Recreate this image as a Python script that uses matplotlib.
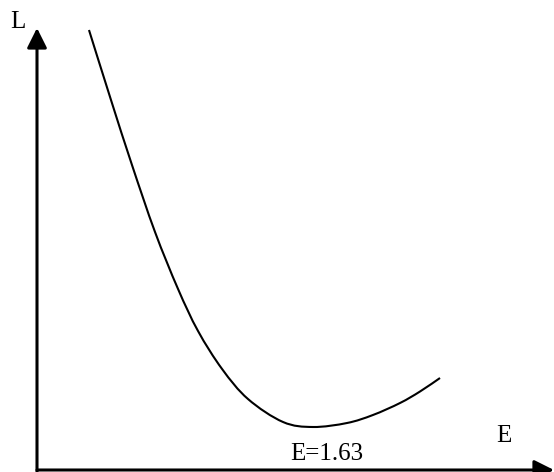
import matplotlib.pyplot as plt
from matplotlib.path import Path
from matplotlib.patches import PathPatch

# values (E in the units of the label, L arbitrary)
E = [0.307, 0.437, 0.561, 0.697, 0.833, 0.951, 1.093, 1.246, 1.453, 1.630,
     1.831, 1.984, 2.144, 2.262, 2.380]
L = [4.40, 3.70, 3.05, 2.38, 1.81, 1.39, 1.01, 0.71, 0.48, 0.43,
     0.47, 0.55, 0.67, 0.785, 0.92]
E_min = 1.63

W, H = 554, 472
fig = plt.figure(figsize=(W / 100, H / 100), dpi=100)
ax = fig.add_axes([0, 0, 1, 1])
ax.axis('off')

# pixel layout of the hand-drawn axes
x0, y0 = 37, 470          # origin in pixels
s = E_min / 276           # E units per pixel
ax.set_xlim(-x0 * s, (W - x0) * s)
ax.set_ylim((y0 - H) / 100, y0 / 100)

# smooth curve through the read points (Catmull-Rom as cubic beziers)
pts = list(zip(E, L))
verts = [pts[0]]
codes = [Path.MOVETO]
for i in range(len(pts) - 1):
    p0 = pts[max(i - 1, 0)]
    p1 = pts[i]
    p2 = pts[i + 1]
    p3 = pts[min(i + 2, len(pts) - 1)]
    c1 = (p1[0] + (p2[0] - p0[0]) / 6, p1[1] + (p2[1] - p0[1]) / 6)
    c2 = (p2[0] - (p3[0] - p1[0]) / 6, p2[1] - (p3[1] - p1[1]) / 6)
    verts += [c1, c2, p2]
    codes += [Path.CURVE4] * 3
ax.add_patch(PathPatch(Path(verts, codes), fill=False, edgecolor='black',
                       lw=1.5, capstyle='butt'))

# axes with arrow heads
arrow = dict(arrowstyle='-|>', mutation_scale=30, lw=2.2, color='black',
             shrinkA=0, shrinkB=0)
ax.annotate('', xy=(x0 / W, 1 - 28 / H), xytext=(x0 / W, 1 - 472 / H),
            xycoords='axes fraction', arrowprops=arrow)
ax.annotate('', xy=(554 / W, 1 - y0 / H), xytext=(x0 / W, 1 - y0 / H),
            xycoords='axes fraction', arrowprops=arrow)

font = dict(family='Liberation Serif', size=18, va='baseline', ha='left')
fig.text(10 / W, 1 - 28 / H, 'L', **font)
fig.text(496 / W, 1 - 442 / H, 'E', **font)
fig.text(290 / W, 1 - 460 / H, 'E=1.63', **font)

fig.savefig('out.png', dpi=100)
